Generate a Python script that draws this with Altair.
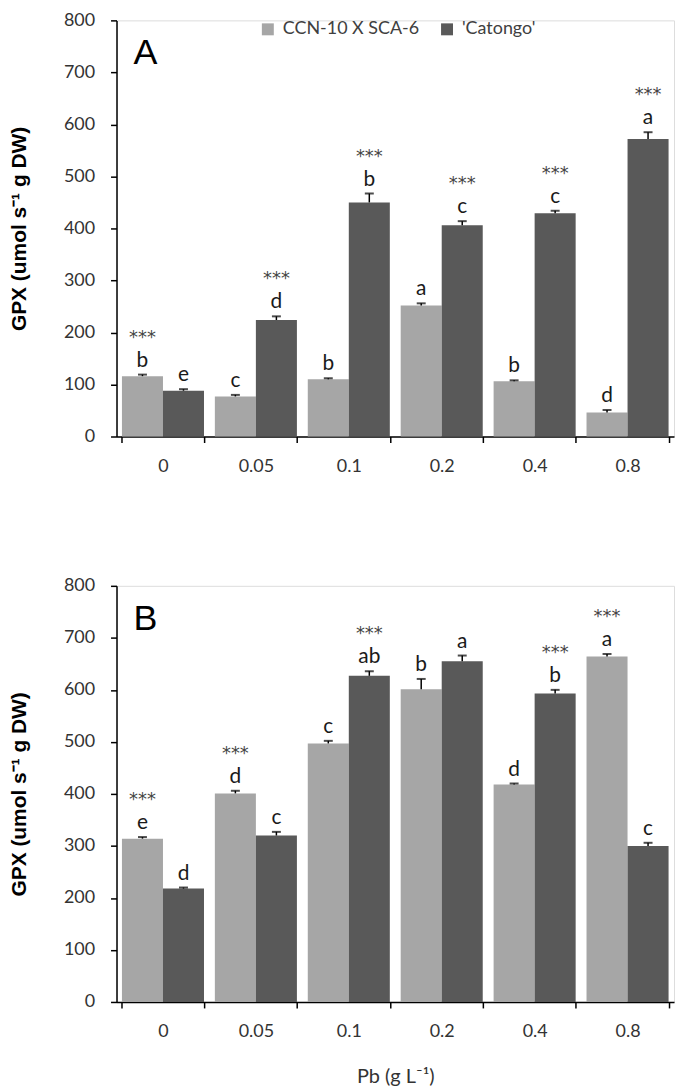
import altair as alt
import pandas as pd

pb_levels = ["0", "0.05", "0.1", "0.2", "0.4", "0.8"]
series_names = ["CCN-10 X SCA-6", "'Catongo'"]

# Panel A
a_ccn = [116, 77, 110, 252, 106, 46]
a_ccn_err = [3, 3, 2, 4, 2, 5]
a_cat = [88, 224, 450, 406, 429, 572]
a_cat_err = [3, 7, 17, 8, 5, 13]
a_ccn_letters = ["b", "c", "b", "a", "b", "d"]
a_cat_letters = ["e", "d", "b", "c", "c", "a"]
a_ccn_stars = ["***", "", "", "", "", ""]
a_cat_stars = ["", "***", "***", "***", "***", "***"]

# Panel B
b_ccn = [314, 401, 497, 601, 418, 664]
b_ccn_err = [3, 5, 5, 20, 2, 5]
b_cat = [218, 320, 627, 655, 593, 300]
b_cat_err = [2, 7, 9, 11, 7, 6]
b_ccn_letters = ["e", "d", "c", "b", "d", "a"]
b_cat_letters = ["d", "c", "ab", "a", "b", "c"]
b_ccn_stars = ["***", "***", "", "", "", "***"]
b_cat_stars = ["", "", "***", "", "***", ""]

y_ticks = [0, 100, 200, 300, 400, 500, 600, 700, 800]
colors = ["#a6a6a6", "#595959"]
y_title = "GPX (umol s\u207b\u00b9 g DW)"
x_title = "Pb (g L\u207b\u00b9)"


def make_df(ccn, ccn_err, cat, cat_err, ccn_l, cat_l, ccn_s, cat_s):
    rows = []
    for i, p in enumerate(pb_levels):
        rows.append(dict(pb=p, series=series_names[0], value=ccn[i], top=ccn[i] + ccn_err[i],
                         letter=ccn_l[i], star=ccn_s[i]))
        rows.append(dict(pb=p, series=series_names[1], value=cat[i], top=cat[i] + cat_err[i],
                         letter=cat_l[i], star=cat_s[i]))
    return pd.DataFrame(rows)


def panel(df, tag, show_legend, show_xtitle):
    x_axis = alt.Axis(
        title=x_title if show_xtitle else None,
        tickBand="extent", labelAngle=0, tickSize=6, labelPadding=15,
        labelFontSize=18, labelFont="Lato", labelColor="#333333",
        titleFont="Lato", titleFontSize=20, titleFontWeight="normal",
        titleColor="#333333", titlePadding=26,
        domainColor="black", tickColor="black", domainWidth=1.5, tickWidth=1.5,
    )
    y_axis = alt.Axis(
        title=y_title, values=y_ticks, tickSize=6, labelPadding=16,
        labelFontSize=18, labelFont="Lato", labelColor="#333333",
        titleFont="Liberation Sans", titleFontSize=21, titleFontWeight="bold",
        titleColor="black", titlePadding=34, grid=False,
        domainColor="black", tickColor="black", domainWidth=1.5, tickWidth=1.5,
    )
    x = alt.X("pb:N", sort=pb_levels,
              scale=alt.Scale(paddingInner=0.117, paddingOuter=0.0585), axis=x_axis)
    xo = alt.XOffset("series:N", sort=series_names,
                     scale=alt.Scale(paddingInner=0, paddingOuter=0))
    yscale = alt.Scale(domain=[0, 800], nice=False)

    if show_legend:
        legend = alt.Legend(
            title=None, orient="none", legendX=143, legendY=0, direction="horizontal",
            symbolType="square", symbolSize=144, symbolStrokeWidth=0,
            labelFont="Lato", labelFontSize=18, labelColor="#404040",
            columnPadding=18, labelOffset=6, padding=0,
        )
    else:
        legend = None

    base = alt.Chart(df)
    bars = base.mark_bar().encode(
        x=x, xOffset=xo,
        y=alt.Y("value:Q", scale=yscale, axis=y_axis),
        color=alt.Color("series:N", sort=series_names,
                        scale=alt.Scale(domain=series_names, range=colors), legend=legend),
    )
    err = base.mark_rule(color="black", strokeWidth=1.5).encode(
        x=x, xOffset=xo,
        y=alt.Y("value:Q", scale=yscale, axis=y_axis), y2="top:Q",
    )
    cap = base.mark_tick(color="black", size=9, thickness=2, orient="horizontal").encode(
        x=x, xOffset=xo,
        y=alt.Y("top:Q", scale=yscale, axis=y_axis),
    )
    letters = base.mark_text(font="Lato", fontSize=21, color="#1a1a1a", dy=-14,
                             baseline="middle").encode(
        x=x, xOffset=xo,
        y=alt.Y("top:Q", scale=yscale, axis=y_axis),
        text="letter:N",
    )
    stars = base.mark_text(font="DejaVu Sans", fontSize=18, color="#444444", dy=-37,
                           baseline="middle").encode(
        x=x, xOffset=xo,
        y=alt.Y("top:Q", scale=yscale, axis=y_axis),
        text="star:N",
    )
    tag_df = pd.DataFrame({"tag": [tag]})
    tag_text = alt.Chart(tag_df).mark_text(font="Liberation Sans", fontSize=36,
                                           color="black", baseline="middle").encode(
        x=alt.value(29), y=alt.value(33), text="tag:N",
    )
    return alt.layer(bars, err, cap, letters, stars, tag_text).properties(width=560, height=418)


df_a = make_df(a_ccn, a_ccn_err, a_cat, a_cat_err, a_ccn_letters, a_cat_letters, a_ccn_stars, a_cat_stars)
df_b = make_df(b_ccn, b_ccn_err, b_cat, b_cat_err, b_ccn_letters, b_cat_letters, b_ccn_stars, b_cat_stars)

chart_a = panel(df_a, "A", True, False)
chart_b = panel(df_b, "B", False, True)

chart = alt.vconcat(chart_a, chart_b, spacing=100).resolve_legend(color="independent").properties(
    padding={"left": 0, "top": 0, "right": 0, "bottom": 0}
).configure_view(stroke=None).configure(background="white")

chart.save("out.html", embed_options={"renderer": "svg", "actions": False})
